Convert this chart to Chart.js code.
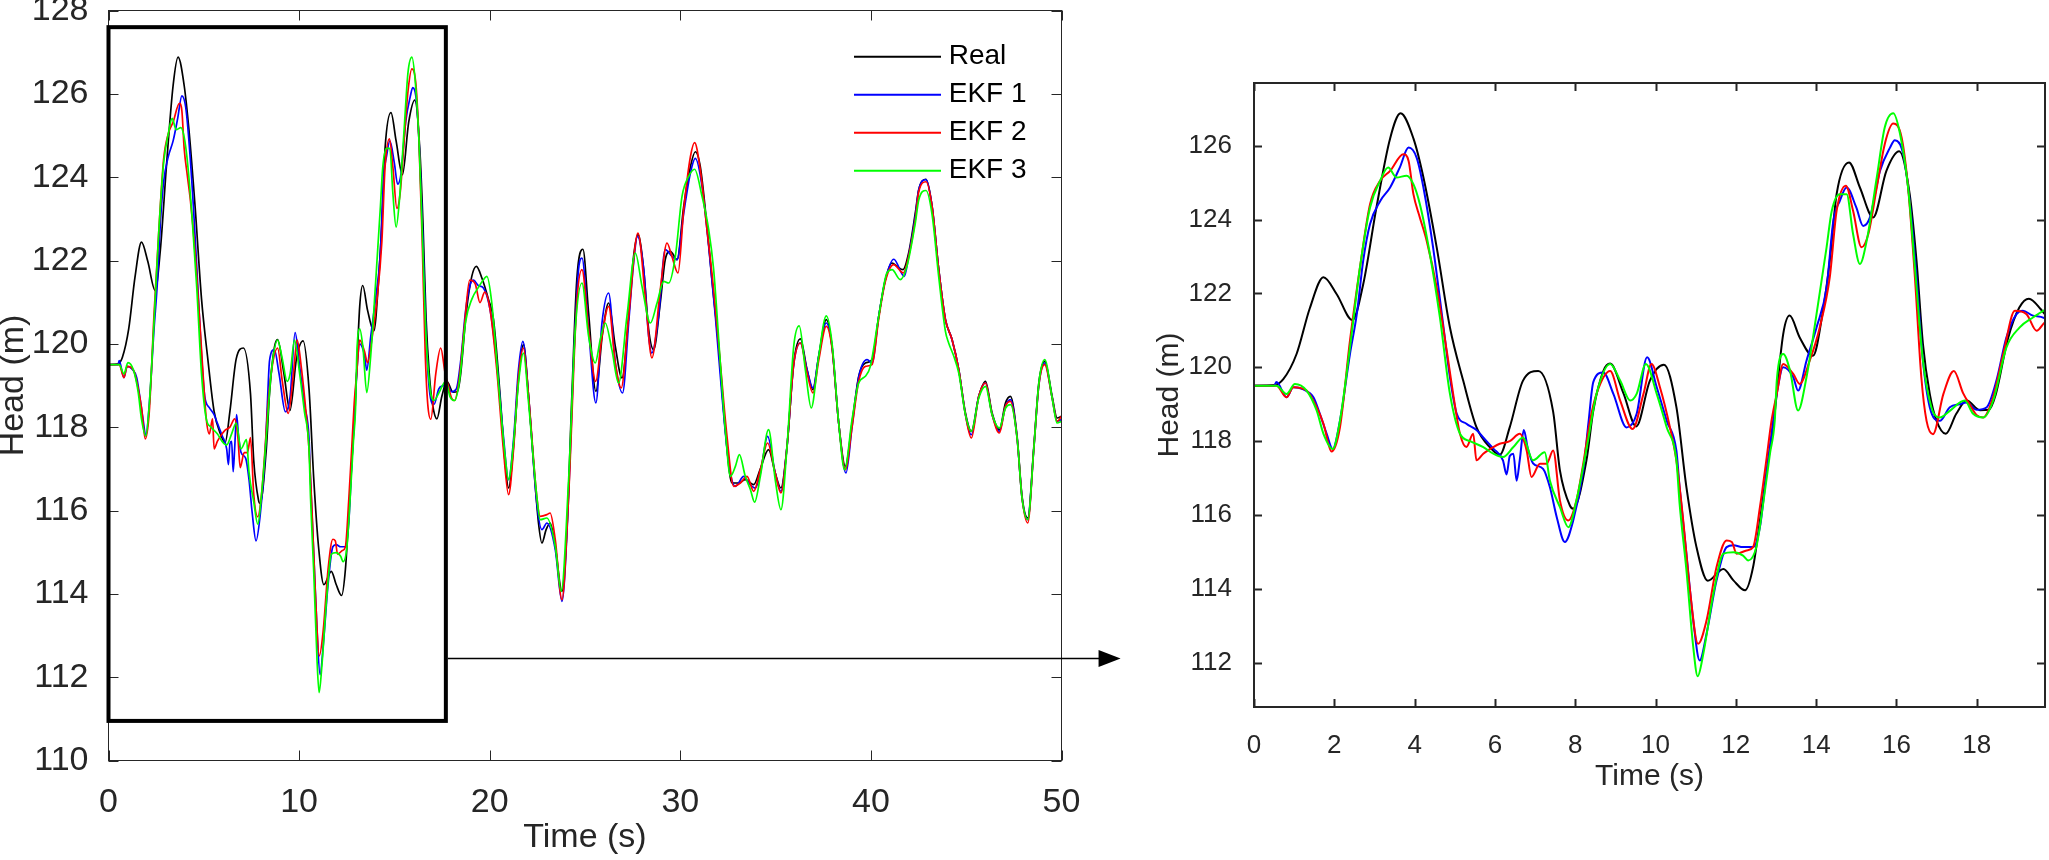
<!DOCTYPE html>
<html>
<head>
<meta charset="utf-8">
<script src="https://cdn.jsdelivr.net/npm/chart.js@4.4.1/dist/chart.umd.min.js"></script>
<style>
    html, body { margin: 0; padding: 0; background: #fff; }
    #wrap { position: relative; width: 2049px; height: 860px; overflow: hidden; background: #fff; }
    #mainChart { position: absolute; left: 0; top: 0; }
    #zoomChart { position: absolute; left: 1140px; top: 0; }
</style>
</head>
<body>
<div id="wrap">
    <canvas id="mainChart" width="1140" height="860"></canvas>
    <canvas id="zoomChart" width="909" height="860"></canvas>
</div>
<script>
// ---- data ----
const seriesNames = ['Real', 'EKF 1', 'EKF 2', 'EKF 3'];
const seriesColors = ['#000000', '#0000ff', '#ff0000', '#00ff00'];

const realTime = [0, 0.5, 0.73, 1.06, 1.39, 1.73, 2.06, 2.45, 2.72, 3.05, 3.39, 3.65, 3.97, 4.22, 4.55, 4.88, 5.21, 5.54, 5.88, 6.12,
    6.37, 6.7, 7.08, 7.45, 7.62, 7.87, 7.95, 8.28, 8.45, 8.7, 8.87, 9.2, 9.52, 9.86, 10.21, 10.52, 10.77, 11.02, 11.3, 11.69,
    11.94, 12.23, 12.43, 12.6, 12.77, 12.93, 13.18, 13.34, 13.59, 13.92, 14.17, 14.34, 14.51, 14.82, 15.09, 15.42, 15.75, 16.07, 16.33, 16.5,
    16.66, 16.83, 17.0, 17.23, 17.49, 17.75, 18.08, 18.3, 18.47, 18.77, 19.06, 19.3, 19.59, 19.94, 20.2, 20.55, 20.81, 20.99, 21.25, 21.51,
    21.77, 22.04, 22.3, 22.56, 22.74, 22.96, 23.17, 23.44, 23.79, 24.05, 24.31, 24.57, 24.89, 25.19, 25.57, 25.92, 26.24, 26.59, 26.94, 27.29,
    27.55, 27.78, 28.08, 28.34, 28.6, 28.95, 29.21, 29.48, 29.83, 30.18, 30.53, 30.79, 31.05, 31.4, 31.66, 32.01, 32.36, 32.71, 33.06, 33.41,
    33.85, 34.2, 34.63, 34.98, 35.28, 35.6, 35.95, 36.3, 36.65, 36.96, 37.26, 37.66, 37.96, 38.31, 38.66, 39.01, 39.36, 39.71, 40.06, 40.41,
    40.76, 41.11, 41.37, 41.68, 41.98, 42.33, 42.51, 42.89, 43.21, 43.56, 43.91, 44.26, 44.61, 44.96, 45.27, 45.66, 46.01, 46.36, 46.74, 47.06,
    47.32, 47.67, 47.93, 48.23, 48.55, 48.81, 49.12, 49.51, 49.77, 50];
const realHead = [119.5, 119.52, 119.68, 120.36, 121.6, 122.44, 121.98, 121.28, 122.25, 124.33, 126.2, 126.88, 126.2, 125.14, 123.25, 121.08, 119.64, 118.38, 117.83, 117.63,
    118.38, 119.64, 119.9, 118.8, 117.2, 116.25, 116.17, 117.48, 118.82, 119.9, 120.1, 119.3, 118.4, 119.64, 120.07, 118.92, 116.75, 115.13, 114.22, 114.54,
    114.23, 113.96, 114.59, 115.85, 117.2, 118.38, 120.9, 121.4, 120.81, 120.31, 121.53, 122.89, 124.69, 125.55, 124.87, 124.06, 125.32, 125.85, 124.69, 122.89,
    120.63, 119.28, 118.55, 118.2, 118.74, 119.1, 118.84, 118.85, 119.25, 120.75, 121.62, 121.86, 121.58, 121.06, 120.58, 118.74, 117.14, 116.54, 117.54, 119.14,
    119.98, 118.74, 117.14, 115.7, 115.22, 115.54, 115.7, 115.14, 114.06, 115.54, 118.74, 121.54, 122.27, 120.74, 118.86, 120.25, 120.98, 119.94, 119.18, 120.66,
    122.1, 122.62, 121.78, 120.34, 119.86, 120.98, 122.02, 122.22, 122.02, 123.3, 124.25, 124.61, 124.25, 122.82, 121.54, 119.94, 117.94, 116.66, 116.66, 116.74,
    116.62, 117.0, 117.46, 116.9, 116.54, 117.54, 119.54, 120.12, 119.38, 118.9, 119.7, 120.58, 119.94, 118.1, 117.06, 118.1, 119.22, 119.54, 119.62, 120.66,
    121.54, 121.94, 121.86, 121.78, 122.18, 123.14, 123.7, 123.95, 123.3, 121.78, 120.58, 120.1, 119.38, 118.34, 117.9, 118.74, 119.1, 118.34, 117.94, 118.58,
    118.74, 117.78, 116.34, 115.82, 117.54, 119.06, 119.58, 118.74, 118.22, 118.26];

const ekf1Time = [0, 0.5, 0.56, 0.81, 0.98, 1.23, 1.48, 1.64, 1.81, 1.96, 2.14, 2.39, 2.56, 2.72, 2.89, 3.14, 3.39, 3.63, 3.85, 4.05,
    4.22, 4.46, 4.71, 4.88, 5.05, 5.29, 5.54, 5.71, 5.96, 6.2, 6.29, 6.37, 6.46, 6.54, 6.62, 6.72, 6.82, 6.95, 7.2, 7.37,
    7.54, 7.74, 7.95, 8.2, 8.33, 8.45, 8.7, 8.95, 9.28, 9.53, 9.79, 10.03, 10.28, 10.52, 10.6, 10.77, 10.94, 11.1, 11.27, 11.52,
    11.77, 11.94, 12.18, 12.43, 12.6, 12.77, 12.93, 13.02, 13.18, 13.43, 13.55, 13.76, 14.01, 14.26, 14.43, 14.59, 14.76, 15.0, 15.17, 15.34,
    15.59, 15.84, 15.96, 16.17, 16.33, 16.5, 16.66, 16.83, 17.08, 17.33, 17.58, 17.74, 18.0, 18.25, 18.49, 18.74, 18.99, 19.15, 19.4, 19.67,
    20.02, 20.37, 20.72, 20.99, 21.25, 21.51, 21.74, 22.04, 22.47, 22.74, 23.0, 23.44, 23.79, 24.14, 24.4, 24.66, 24.84, 25.19, 25.57, 25.89,
    26.24, 26.59, 26.97, 27.29, 27.55, 27.75, 28.08, 28.34, 28.51, 28.86, 29.21, 29.56, 29.83, 30.18, 30.53, 30.79, 31.14, 31.49, 31.84, 32.19,
    32.54, 32.89, 33.33, 33.59, 33.94, 34.2, 34.58, 34.98, 35.28, 35.6, 35.95, 36.3, 36.65, 36.96, 37.26, 37.66, 37.96, 38.31, 38.69, 39.01,
    39.36, 39.8, 40.06, 40.41, 40.76, 41.2, 41.75, 41.98, 42.33, 42.51, 42.89, 43.21, 43.56, 43.91, 44.26, 44.61, 44.96, 45.27, 45.66, 46.01,
    46.36, 46.74, 47.06, 47.32, 47.67, 47.93, 48.23, 48.55, 48.81, 49.12, 49.51, 49.77, 50];
const ekf1Head = [119.5, 119.5, 119.6, 119.19, 119.46, 119.4, 119.19, 118.74, 118.2, 117.79, 118.55, 120.36, 121.44, 122.89, 123.88, 124.5, 124.87, 125.41, 125.95, 125.68,
    124.87, 123.25, 121.17, 119.73, 118.74, 118.47, 118.3, 118.1, 117.8, 117.48, 117.1, 117.6, 117.66, 116.93, 117.5, 118.3, 117.8, 117.4, 117.25, 116.75,
    115.94, 115.27, 115.85, 117.2, 118.5, 119.6, 119.86, 119.28, 118.37, 118.74, 120.27, 119.46, 118.55, 117.74, 116.75, 114.95, 113.14, 112.06, 112.78, 114.23,
    115.13, 115.18, 115.13, 115.13, 115.67, 117.2, 118.56, 119.28, 120.0, 119.73, 119.37, 120.18, 121.08, 122.16, 123.97, 124.51, 124.87, 124.33, 123.83, 124.06,
    125.32, 125.95, 126.15, 125.77, 124.51, 122.44, 120.18, 118.92, 118.55, 118.92, 119.0, 119.05, 118.85, 118.92, 119.64, 120.81, 121.44, 121.53, 121.4, 121.34,
    120.82, 119.54, 117.78, 116.74, 117.7, 119.38, 120.06, 118.74, 116.18, 115.54, 115.7, 115.06, 113.82, 116.34, 119.54, 121.78, 122.06, 120.34, 118.58, 120.5,
    121.22, 119.54, 118.82, 120.5, 121.94, 122.58, 121.78, 120.18, 119.78, 120.66, 122.26, 122.1, 122.02, 123.14, 124.1, 124.45, 123.78, 122.34, 120.66, 118.74,
    117.14, 116.58, 116.82, 116.66, 116.54, 116.9, 117.78, 116.9, 116.46, 117.54, 119.5, 120.02, 119.38, 118.94, 119.7, 120.5, 119.94, 118.1, 116.9, 118.0,
    119.2, 119.62, 119.54, 120.66, 121.54, 122.03, 121.62, 122.1, 123.06, 123.7, 123.94, 123.3, 121.78, 120.58, 120.1, 119.38, 118.3, 117.82, 118.74, 119.06,
    118.3, 117.9, 118.5, 118.66, 117.74, 116.3, 115.78, 117.5, 119.0, 119.54, 118.7, 118.14, 118.18];

const ekf2Time = [0, 0.56, 0.81, 0.98, 1.31, 1.56, 1.73, 1.93, 2.14, 2.39, 2.64, 2.89, 3.14, 3.39, 3.72, 3.85, 3.97, 4.13, 4.3, 4.55,
    4.8, 4.96, 5.13, 5.29, 5.46, 5.54, 5.71, 5.96, 6.12, 6.37, 6.62, 6.79, 6.91, 7.12, 7.29, 7.45, 7.62, 7.83, 8.03, 8.2,
    8.37, 8.53, 8.87, 9.12, 9.43, 9.7, 9.9, 10.11, 10.36, 10.52, 10.69, 10.85, 11.06, 11.27, 11.52, 11.77, 11.9, 12.02, 12.27, 12.43,
    12.6, 12.77, 12.89, 13.02, 13.18, 13.43, 13.59, 13.84, 14.09, 14.34, 14.51, 14.74, 14.92, 15.13, 15.3, 15.51, 15.71, 15.92, 16.13, 16.29,
    16.46, 16.62, 16.75, 16.91, 17.17, 17.43, 17.66, 17.82, 18.0, 18.16, 18.41, 18.66, 18.95, 19.24, 19.49, 19.74, 20.02, 20.37, 20.72, 20.99,
    21.25, 21.51, 21.77, 22.04, 22.47, 22.65, 23.0, 23.17, 23.44, 23.79, 24.14, 24.57, 24.84, 25.19, 25.56, 25.89, 26.24, 26.59, 26.9, 27.29,
    27.78, 28.16, 28.51, 28.95, 29.3, 29.56, 29.88, 30.18, 30.53, 30.75, 31.05, 31.4, 31.75, 32.1, 32.45, 32.8, 33.15, 33.5, 33.85, 34.2,
    34.58, 34.98, 35.28, 35.6, 35.95, 36.3, 36.65, 36.96, 37.26, 37.66, 37.96, 38.31, 38.66, 39.01, 39.36, 39.71, 40.06, 40.41, 40.76, 41.2,
    41.7, 41.98, 42.33, 42.51, 42.89, 43.21, 43.56, 43.91, 44.26, 44.61, 44.96, 45.27, 45.66, 46.01, 46.36, 46.74, 47.06, 47.32, 47.67, 47.93,
    48.23, 48.55, 48.81, 49.12, 49.51, 49.77, 50];
const ekf2Head = [119.5, 119.5, 119.19, 119.46, 119.37, 118.92, 118.47, 117.72, 118.37, 120.72, 122.71, 124.42, 125.05, 125.32, 125.77, 125.59, 124.69, 124.06, 123.43, 122.16,
    120.45, 119.28, 118.2, 117.84, 118.2, 117.48, 117.66, 117.84, 117.93, 118.0, 118.2, 117.75, 117.03, 117.39, 117.39, 117.75, 116.39, 115.85, 116.39, 117.39,
    118.56, 119.28, 119.9, 119.1, 118.33, 119.28, 120.09, 119.46, 118.37, 117.47, 115.85, 114.05, 112.51, 113.14, 114.59, 115.31, 115.27, 114.95, 115.04, 115.13,
    116.21, 117.57, 118.56, 119.28, 120.09, 119.82, 119.55, 120.18, 121.08, 122.44, 124.24, 124.92, 124.24, 123.25, 123.61, 124.87, 126.05, 126.6, 126.22, 124.87,
    122.44, 119.73, 118.55, 118.19, 119.28, 119.9, 119.3, 119.0, 118.7, 118.64, 119.2, 120.36, 121.53, 121.44, 120.99, 121.24, 120.82, 119.38, 117.46, 116.38,
    117.46, 119.22, 119.9, 118.74, 116.34, 115.86, 115.9, 115.94, 115.3, 113.86, 116.34, 120.98, 121.78, 120.34, 119.1, 120.18, 120.9, 119.54, 118.94, 120.66,
    122.66, 121.14, 119.66, 121.3, 122.42, 122.1, 121.7, 123.22, 124.49, 124.83, 124.17, 122.74, 121.3, 119.54, 117.78, 116.58, 116.66, 116.82, 116.46, 116.98,
    117.62, 116.9, 116.42, 117.54, 119.5, 120.02, 119.3, 118.82, 119.6, 120.42, 119.9, 118.1, 116.98, 118.0, 119.1, 119.46, 119.5, 120.6, 121.5, 121.9,
    121.7, 122.1, 122.98, 123.65, 123.89, 123.3, 121.78, 120.58, 120.1, 119.38, 118.3, 117.74, 118.74, 119.06, 118.3, 117.86, 118.5, 118.62, 117.74, 116.3,
    115.7, 117.5, 119.0, 119.5, 118.7, 118.14, 118.26];

const ekf3Time = [0, 0.56, 0.81, 1.02, 1.31, 1.56, 1.73, 1.96, 2.14, 2.39, 2.64, 2.89, 3.14, 3.34, 3.55, 3.8, 3.97, 4.13, 4.38, 4.63,
    4.88, 5.13, 5.38, 5.71, 5.96, 6.2, 6.46, 6.7, 6.95, 7.24, 7.37, 7.62, 7.83, 8.03, 8.29, 8.53, 8.87, 9.12, 9.37, 9.53,
    9.76, 10.03, 10.28, 10.52, 10.6, 10.77, 10.94, 11.05, 11.19, 11.44, 11.69, 11.94, 12.18, 12.31, 12.51, 12.68, 12.85, 12.97, 13.02, 13.18,
    13.35, 13.55, 13.76, 14.01, 14.26, 14.39, 14.59, 14.76, 14.92, 15.09, 15.26, 15.51, 15.71, 15.92, 16.09, 16.29, 16.46, 16.66, 16.87, 17.08,
    17.33, 17.7, 17.91, 18.16, 18.41, 18.74, 19.07, 19.4, 19.74, 19.85, 20.11, 20.46, 20.81, 20.99, 21.25, 21.51, 21.77, 22.04, 22.47, 22.65,
    23.0, 23.44, 23.75, 24.14, 24.49, 24.84, 25.19, 25.54, 25.8, 26.06, 26.41, 26.76, 27.2, 27.64, 27.99, 28.43, 28.78, 29.13, 29.39, 29.74,
    30.09, 30.44, 30.75, 31.14, 31.49, 31.75, 32.1, 32.36, 32.63, 32.89, 33.1, 33.41, 33.68, 33.9, 34.2, 34.63, 34.98, 35.28, 35.6, 35.95,
    36.24, 36.56, 36.87, 37.26, 37.66, 37.96, 38.31, 38.62, 39.01, 39.36, 39.71, 39.97, 40.41, 40.84, 41.11, 41.54, 41.89, 42.33, 42.51, 42.89,
    43.21, 43.56, 43.91, 44.08, 44.35, 44.61, 44.96, 45.27, 45.66, 46.01, 46.36, 46.74, 47.06, 47.32, 47.67, 47.93, 48.23, 48.55, 48.81, 49.12,
    49.51, 49.77, 50];
const ekf3Head = [119.5, 119.5, 119.28, 119.55, 119.37, 118.83, 118.2, 117.79, 118.55, 120.54, 122.71, 124.33, 125.05, 125.41, 125.14, 125.19, 124.96, 124.42, 123.07, 121.35,
    119.28, 118.2, 118.0, 117.84, 117.66, 117.57, 117.84, 118.1, 117.48, 117.7, 116.93, 116.21, 115.67, 116.39, 117.84, 119.28, 120.09, 119.64, 119.1, 119.28,
    120.09, 119.28, 118.37, 117.47, 116.3, 114.5, 112.42, 111.63, 112.24, 113.86, 114.95, 114.99, 114.9, 114.77, 115.13, 116.3, 117.66, 118.56, 119.64, 120.36,
    119.91, 118.83, 119.73, 121.44, 123.25, 124.24, 124.69, 124.69, 123.61, 122.8, 123.43, 125.14, 126.5, 126.88, 126.32, 124.87, 122.71, 120.18, 118.92, 118.64,
    118.82, 119.1, 118.74, 118.64, 119.1, 120.54, 121.08, 121.35, 121.58, 121.62, 120.98, 119.06, 117.3, 116.74, 117.62, 119.06, 119.78, 118.58, 116.34, 115.78,
    115.82, 115.14, 114.06, 116.74, 120.34, 121.46, 120.18, 119.54, 120.1, 120.5, 119.86, 119.06, 120.66, 122.18, 121.38, 120.5, 120.98, 121.5, 121.46, 122.1,
    123.54, 124.02, 124.19, 123.54, 122.74, 121.78, 119.54, 117.94, 116.82, 117.06, 117.34, 116.82, 116.5, 116.2, 116.82, 117.94, 116.74, 116.02, 117.54, 119.94,
    120.43, 119.38, 118.46, 119.7, 120.67, 120.02, 118.1, 116.98, 118.18, 119.06, 119.22, 119.46, 120.66, 121.7, 121.78, 121.54, 121.86, 122.9, 123.45, 123.68,
    123.1, 121.6, 120.3, 120.02, 119.7, 119.3, 118.3, 117.9, 118.7, 118.98, 118.3, 117.98, 118.45, 118.54, 117.74, 116.3, 115.78, 117.5, 119.05, 119.62,
    118.7, 118.1, 118.14];

const seriesTimes = [realTime, ekf1Time, ekf2Time, ekf3Time];
const seriesHeads = [realHead, ekf1Head, ekf2Head, ekf3Head];

const mainXTicks = [0, 10, 20, 30, 40, 50];
const mainYTicks = [110, 112, 114, 116, 118, 120, 122, 124, 126, 128];
const zoomXTicks = [0, 2, 4, 6, 8, 10, 12, 14, 16, 18];
const zoomYTicks = [112, 114, 116, 118, 120, 122, 124, 126];

// zoomed window marked on the main plot, and the arrow pointing to the inset
const zoomWindow = { xMin: 0, xMax: 17.7, yMin: 110.95, yMax: 127.6 };
const arrowLevel = 112.47;
const arrowTipTime = 53.1;

// ---- drawing ----
const FONT = "'Liberation Sans', Arial, Helvetica, sans-serif";
const AXIS_COLOR = '#262626';

function makeDatasets(width) {
    return seriesNames.map((name, i) => ({
        label: name,
        data: seriesTimes[i].map((t, k) => ({ x: t, y: seriesHeads[i][k] })),
        borderColor: seriesColors[i],
        backgroundColor: seriesColors[i],
        borderWidth: width,
        pointRadius: 0,
        fill: false,
        cubicInterpolationMode: 'monotone',
        order: seriesNames.length - i // later series drawn on top
    }));
}

function fixedTicks(values) {
    return scale => { scale.ticks = values.map(v => ({ value: v })); };
}

// MATLAB style box with inward ticks on all four sides
const matlabBox = {
    id: 'matlabBox',
    afterDatasetsDraw(chart, args, opts) {
        const { ctx, chartArea: a, scales: { x, y } } = chart;
        ctx.save();
        ctx.strokeStyle = opts.color;
        ctx.lineWidth = opts.lineWidth;
        ctx.beginPath();
        x.ticks.forEach(t => {
            const px = Math.round(x.getPixelForValue(t.value)) + 0.5;
            ctx.moveTo(px, a.bottom); ctx.lineTo(px, a.bottom - opts.tickLength);
            ctx.moveTo(px, a.top); ctx.lineTo(px, a.top + opts.tickLength);
        });
        y.ticks.forEach(t => {
            const py = Math.round(y.getPixelForValue(t.value)) + 0.5;
            ctx.moveTo(a.left, py); ctx.lineTo(a.left + opts.tickLength, py);
            ctx.moveTo(a.right, py); ctx.lineTo(a.right - opts.tickLength, py);
        });
        ctx.stroke();
        ctx.strokeRect(a.left, a.top, a.right - a.left, a.bottom - a.top);
        ctx.restore();
    }
};

// legend without a box, top right inside the axes
const matlabLegend = {
    id: 'matlabLegend',
    afterDatasetsDraw(chart, args, opts) {
        if (!opts.show) return;
        const { ctx, chartArea: a } = chart;
        ctx.save();
        ctx.font = opts.font;
        ctx.textBaseline = 'middle';
        ctx.textAlign = 'left';
        chart.data.datasets.forEach((ds, i) => {
            const yy = a.top + opts.top + i * opts.rowGap;
            ctx.strokeStyle = ds.borderColor;
            ctx.lineWidth = opts.lineWidth;
            ctx.beginPath();
            ctx.moveTo(a.right - opts.lineStart, yy);
            ctx.lineTo(a.right - opts.lineEnd, yy);
            ctx.stroke();
            ctx.fillStyle = opts.color;
            ctx.fillText(ds.label, a.right - opts.textStart, yy);
        });
        ctx.restore();
    }
};

// rectangle around the zoomed part and the arrow to the inset
const zoomMarker = {
    id: 'zoomMarker',
    afterDraw(chart, args, opts) {
        if (!opts.show) return;
        const { ctx, scales: { x, y } } = chart;
        const l = x.getPixelForValue(zoomWindow.xMin);
        const r = x.getPixelForValue(zoomWindow.xMax);
        const t = y.getPixelForValue(zoomWindow.yMax);
        const b = y.getPixelForValue(zoomWindow.yMin);
        ctx.save();
        ctx.strokeStyle = '#000';
        ctx.fillStyle = '#000';
        ctx.lineWidth = 4;
        ctx.strokeRect(l, t, r - l, b - t);

        const ay = Math.round(y.getPixelForValue(arrowLevel)) + 0.5;
        const tip = x.getPixelForValue(arrowTipTime);
        ctx.lineWidth = 1.5;
        ctx.beginPath();
        ctx.moveTo(r + 2, ay);
        ctx.lineTo(tip - 20, ay);
        ctx.stroke();
        ctx.beginPath();
        ctx.moveTo(tip, ay);
        ctx.lineTo(tip - 22, ay - 8.5);
        ctx.lineTo(tip - 22, ay + 8.5);
        ctx.closePath();
        ctx.fill();
        ctx.restore();
    }
};

function buildOptions(cfg) {
    return {
        responsive: false,
        animation: false,
        events: [],
        layout: { padding: cfg.padding },
        plugins: {
            legend: { display: false },
            tooltip: { enabled: false },
            matlabBox: { color: AXIS_COLOR, lineWidth: cfg.axisWidth, tickLength: cfg.tickLength },
            matlabLegend: cfg.legend,
            zoomMarker: { show: cfg.marker }
        },
        scales: {
            x: {
                type: 'linear',
                min: cfg.xMin, max: cfg.xMax,
                afterBuildTicks: fixedTicks(cfg.xTicks),
                afterFit: s => { s.height = cfg.xHeight; s.paddingLeft = 0; s.paddingRight = 0; },
                grid: { display: false },
                border: { display: false },
                ticks: { font: { family: FONT, size: cfg.tickSize }, color: AXIS_COLOR, padding: cfg.xTickPad, maxRotation: 0, autoSkip: false },
                title: { display: true, text: 'Time (s)', color: AXIS_COLOR, font: { family: FONT, size: cfg.titleSize }, padding: { top: 0, bottom: cfg.xTitlePad } }
            },
            y: {
                type: 'linear',
                min: cfg.yMin, max: cfg.yMax,
                afterBuildTicks: fixedTicks(cfg.yTicks),
                afterFit: s => { s.width = cfg.yWidth; s.paddingTop = 0; s.paddingBottom = 0; },
                grid: { display: false },
                border: { display: false },
                ticks: { font: { family: FONT, size: cfg.tickSize }, color: AXIS_COLOR, padding: cfg.yTickPad, autoSkip: false },
                title: { display: true, text: 'Head (m)', color: AXIS_COLOR, font: { family: FONT, size: cfg.titleSize, lineHeight: 1 }, padding: { top: cfg.yTitlePad, bottom: 0 } }
            }
        }
    };
}

new Chart(document.getElementById('mainChart'), {
    type: 'line',
    data: { datasets: makeDatasets(1.7) },
    options: buildOptions({
        padding: { left: 0, top: 10.5, right: 78.5, bottom: 0 },
        xMin: 0, xMax: 50, yMin: 110, yMax: 128,
        xTicks: mainXTicks, yTicks: mainYTicks,
        xHeight: 99.5, yWidth: 108.5,
        tickSize: 34, titleSize: 34,
        xTickPad: 14, yTickPad: 12,
        xTitlePad: 2, yTitlePad: -3,
        axisWidth: 1, tickLength: 10,
        marker: true,
        legend: { show: true, font: '28px ' + FONT, color: '#000', top: 46.2, rowGap: 38, lineStart: 207.5, lineEnd: 120.5, textStart: 112.8, lineWidth: 2 }
    }),
    plugins: [matlabBox, matlabLegend, zoomMarker]
});

new Chart(document.getElementById('zoomChart'), {
    type: 'line',
    data: { datasets: makeDatasets(2) },
    options: buildOptions({
        padding: { left: 0, top: 83, right: 4, bottom: 0 },
        xMin: 0, xMax: 19.7, yMin: 110.8, yMax: 127.7,
        xTicks: zoomXTicks, yTicks: zoomYTicks,
        xHeight: 153, yWidth: 114,
        tickSize: 26, titleSize: 30,
        xTickPad: 15, yTickPad: 14,
        xTitlePad: 65, yTitlePad: 15,
        axisWidth: 2, tickLength: 8,
        marker: false,
        legend: { show: false }
    }),
    plugins: [matlabBox, matlabLegend, zoomMarker]
});
</script>
</body>
</html>
